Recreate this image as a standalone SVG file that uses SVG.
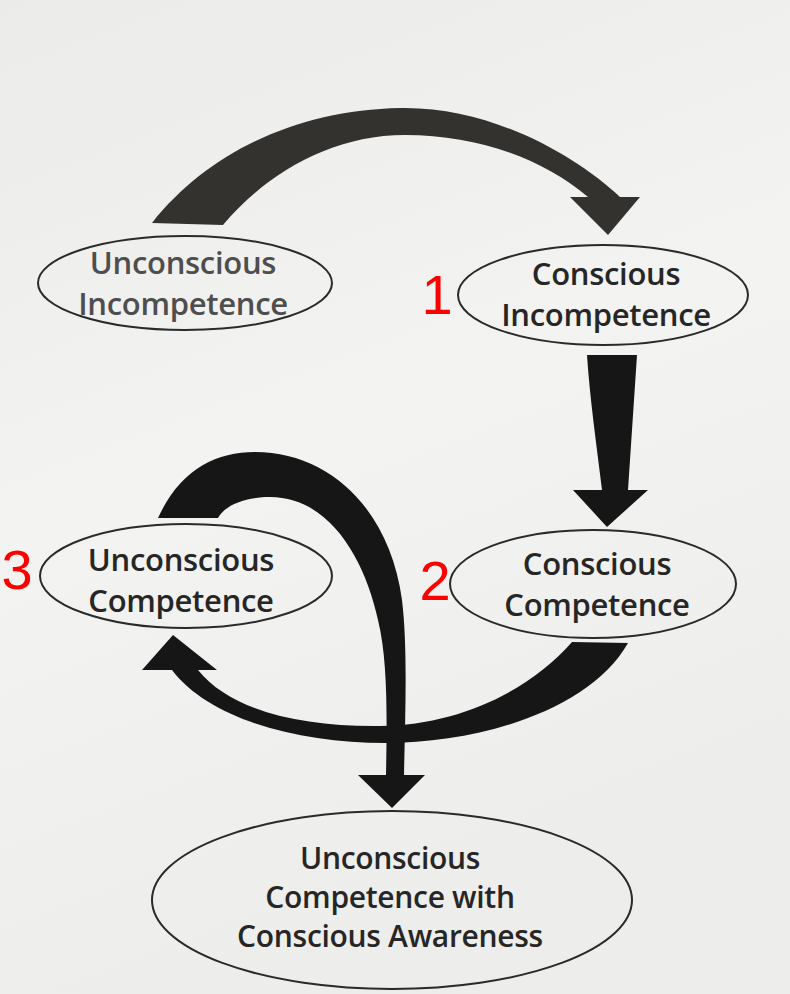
<svg xmlns="http://www.w3.org/2000/svg" width="790" height="994" viewBox="0 0 790 994">
<defs>
<linearGradient id="bg" x1="0" y1="0" x2="0.3" y2="1">
<stop offset="0" stop-color="#ebebea"/>
<stop offset="0.5" stop-color="#f3f3f1"/>
<stop offset="1" stop-color="#ededeb"/>
</linearGradient>
</defs>
<style>
.node ellipse{fill:none;stroke:#2a2a2a;stroke-width:2}
.lbl{font-family:"Open Sans","DejaVu Sans",sans-serif;font-weight:600;font-size:31px;letter-spacing:-0.3px;text-anchor:middle;fill:#262626}
.big{font-size:30px}
.num{font-family:"Liberation Sans",Arial,sans-serif;font-size:56px;fill:#ff0000;text-anchor:middle}
.arr{fill:#161616}
</style>
<rect width="790" height="994" fill="url(#bg)"/>
<g id="connectors">
<path class="arr" style="fill:#33322f" d="M152 223 C210 150 300 110 400 108 C490 106 575 155 620 197 L640 197 L608 235 L570 197 L588 197 C545 160 480 135 405 135 C330 135 265 175 223 225 Z"/>
<path class="arr" d="M587 355 L637 355 L628 490 L648 490 L607 527 L573 490 L602 490 C596 440 590 400 587 355 Z"/>
<path class="arr" d="M572 642 C530 690 460 725 380 726 C300 727 230 710 198 670 L217 670 L173 635 L142 670 L172 670 C210 720 300 743 385 743 C480 743 590 710 628 643 Z"/>
<path class="arr" d="M158 518 C180 470 215 452 255 452 C330 452 390 510 402 600 C408 650 405 720 404 775 L425 775 L392 808 L358 775 L386 775 C387 720 388 660 378 620 C365 560 330 497 270 497 C245 497 225 505 218 518 Z"/>
</g>
<g id="n-unconscious-incompetence" class="node">
<ellipse cx="185" cy="283" rx="147" ry="47"/>
<text class="lbl" x="183" y="274" style="fill:#4e4e4e">Unconscious</text>
<text class="lbl" x="183" y="315" style="fill:#4e4e4e">Incompetence</text>
</g>
<g id="n-conscious-incompetence" class="node">
<ellipse cx="603" cy="295" rx="145" ry="50"/>
<text class="lbl" x="606" y="285">Conscious</text>
<text class="lbl" x="606" y="326">Incompetence</text>
</g>
<g id="n-unconscious-competence" class="node">
<ellipse cx="186" cy="576" rx="146" ry="52"/>
<text class="lbl" x="181" y="571">Unconscious</text>
<text class="lbl" x="181" y="612">Competence</text>
</g>
<g id="n-conscious-competence" class="node">
<ellipse cx="593" cy="584" rx="143" ry="54"/>
<text class="lbl" x="597" y="575">Conscious</text>
<text class="lbl" x="597" y="616">Competence</text>
</g>
<g id="n-awareness" class="node">
<ellipse cx="392" cy="900" rx="240" ry="89"/>
<text class="lbl big" x="390" y="869">Unconscious</text>
<text class="lbl big" x="390" y="908">Competence with</text>
<text class="lbl big" x="390" y="947">Conscious Awareness</text>
</g>
<g id="numbers">
<text class="num" x="437" y="314">1</text>
<text class="num" x="435" y="600">2</text>
<text class="num" x="17" y="589">3</text>
</g>
</svg>
